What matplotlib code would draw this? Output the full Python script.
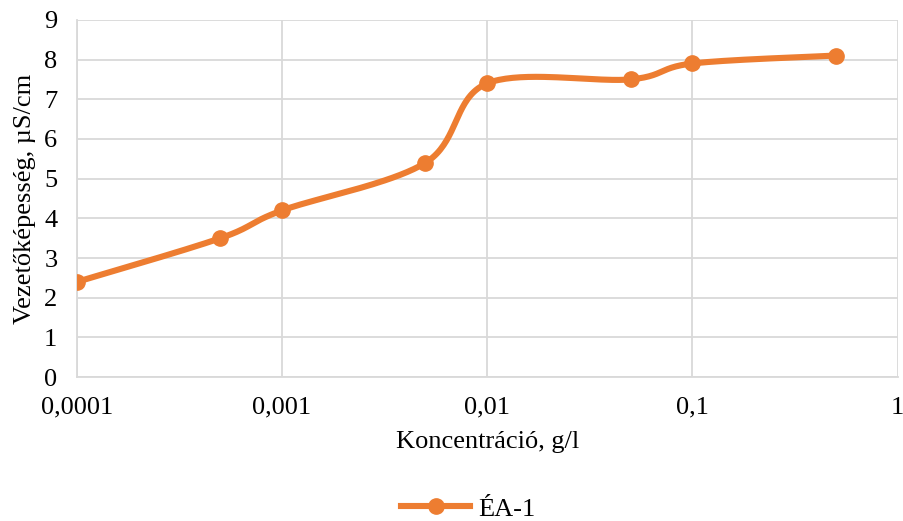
import numpy as np
import matplotlib.pyplot as plt
from matplotlib.ticker import FixedLocator, FixedFormatter, NullLocator

# Measured conductivity vs. concentration
concentration = [0.0001, 0.0005, 0.001, 0.005, 0.01, 0.05, 0.1, 0.5]
conductivity = [2.4, 3.5, 4.2, 5.4, 7.4, 7.5, 7.9, 8.1]
series_name = "ÉA-1"

x_ticks = [0.0001, 0.001, 0.01, 0.1, 1]
x_tick_labels = ["0,0001", "0,001", "0,01", "0,1", "1"]
y_ticks = list(range(0, 10))

orange = "#ED7D31"
grid_grey = "#D9D9D9"

plt.rcParams["font.family"] = ["Liberation Serif", "DejaVu Serif"]


def smooth_curve(xs, ys, sx, sy, n=40):
    """Catmull-Rom style bezier smoothing in screen-like space (log x)."""
    px = np.log10(xs) * sx
    py = np.asarray(ys, dtype=float) * sy
    pts = np.column_stack([px, py])
    out = []
    for i in range(len(pts) - 1):
        p0 = pts[max(i - 1, 0)]
        p1 = pts[i]
        p2 = pts[i + 1]
        p3 = pts[min(i + 2, len(pts) - 1)]
        c1 = p1 + (p2 - p0) / 6.0
        c2 = p2 - (p3 - p1) / 6.0
        t = np.linspace(0, 1, n)[:, None]
        seg = ((1 - t) ** 3) * p1 + 3 * ((1 - t) ** 2) * t * c1 + 3 * (1 - t) * t ** 2 * c2 + t ** 3 * p2
        out.append(seg if i == 0 else seg[1:])
    curve = np.vstack(out)
    return 10 ** (curve[:, 0] / sx), curve[:, 1] / sy


fig = plt.figure(figsize=(9.04, 5.21), dpi=100)
ax = fig.add_axes([0.085, 0.276, 0.908, 0.686])

ax.set_xscale("log")
ax.set_xlim(0.0001, 1)
ax.set_ylim(0, 9)

# pixel scale: ~205 px per decade, ~39.7 px per unit
cx, cy = smooth_curve(concentration, conductivity, 205.0, 39.7)
ax.plot(cx, cy, color=orange, linewidth=4.4, solid_capstyle="round", zorder=3)
ax.plot(concentration, conductivity, linestyle="none", marker="o", markersize=11,
        color=orange, zorder=4)
# legend proxy
ax.plot([], [], color=orange, linewidth=4.4, marker="o", markersize=11, label=series_name)

ax.xaxis.set_major_locator(FixedLocator(x_ticks))
ax.xaxis.set_major_formatter(FixedFormatter(x_tick_labels))
ax.xaxis.set_minor_locator(NullLocator())
ax.set_yticks(y_ticks)

ax.grid(True, color=grid_grey, linewidth=1.3)
ax.set_axisbelow(True)
for side in ["top", "right"]:
    ax.spines[side].set_visible(False)
for side in ["left", "bottom"]:
    ax.spines[side].set_color(grid_grey)
    ax.spines[side].set_linewidth(1.3)

ax.tick_params(axis="x", length=0, labelsize=19, pad=14, colors="black")
ax.tick_params(axis="y", length=0, labelsize=19, pad=14, colors="black")

ax.set_xlabel("Koncentráció, g/l", fontsize=19, labelpad=9)
ax.set_ylabel("Vezetőképesség, µS/cm", fontsize=19, labelpad=6)

fig.legend(loc="lower center", bbox_to_anchor=(0.518, -0.045), frameon=False,
           fontsize=19, handlelength=2.6, handletextpad=0.3)

fig.savefig("out.png", dpi=100)
